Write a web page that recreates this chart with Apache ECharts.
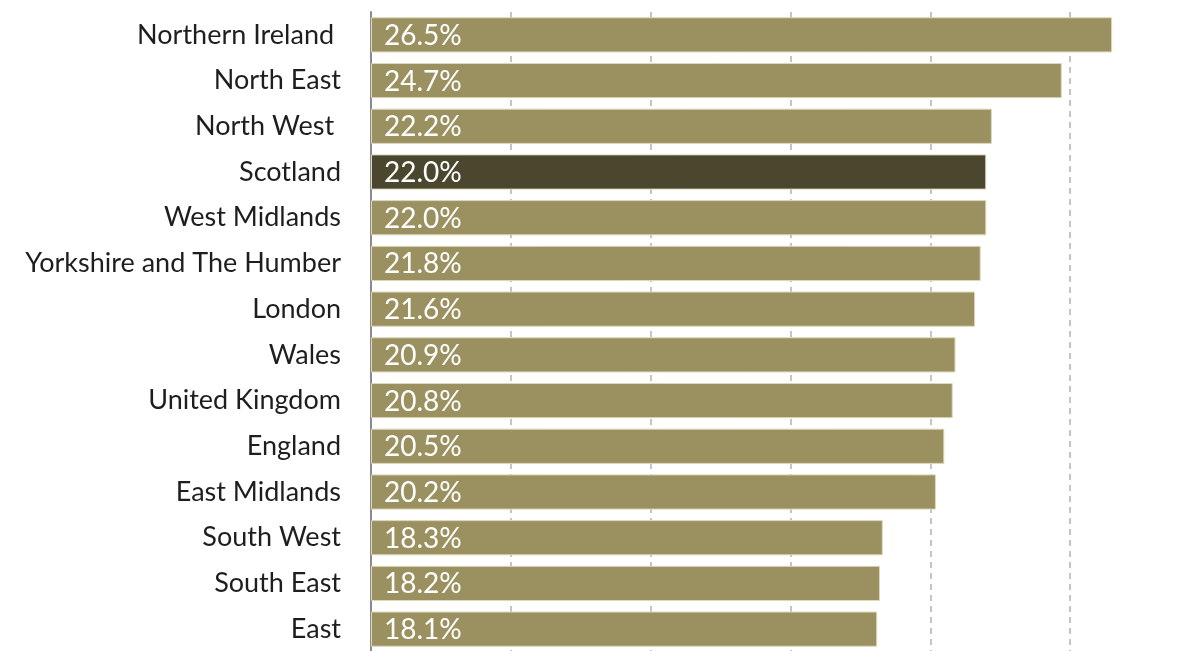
<!DOCTYPE html>
<html>
<head>
<meta charset="utf-8">
<script src="https://cdn.jsdelivr.net/npm/echarts@6/dist/echarts.min.js"></script>
<style>
  html, body { margin: 0; padding: 0; background: #fff; }
  #chart { width: 1204px; height: 651px; }
</style>
</head>
<body>
<div id="chart"></div>
<script>
// categories, top to bottom
var regions = ['Northern Ireland ', 'North East', 'North West ', 'Scotland', 'West Midlands',
    'Yorkshire and The Humber', 'London', 'Wales', 'United Kingdom', 'England',
    'East Midlands', 'South West', 'South East', 'East'];
var shares = [26.5, 24.7, 22.2, 22.0, 22.0, 21.8, 21.6, 20.9, 20.8, 20.5, 20.2, 18.3, 18.2, 18.1];
var highlight = 'Scotland';

var barColor = '#9b9160';
var highColor = '#4b472f';

var seriesData = [];
shares.forEach(function (v, i) {
    seriesData.push({
        value: v,
        itemStyle: { color: regions[i] === highlight ? highColor : barColor }
    });
});

var myChart = echarts.init(document.getElementById('chart'));
var option = {
    backgroundColor: '#fff',
    animation: false,
    grid: { left: 371, top: 12, width: 839, height: 640, containLabel: false, outerBoundsMode: 'none' },
    xAxis: {
        type: 'value',
        min: 0,
        max: 30,
        interval: 5,
        axisLabel: { show: false },
        axisLine: { show: false },
        axisTick: { show: false },
        splitLine: { lineStyle: { color: '#c4c4c4', width: 2, type: [6, 5] } }
    },
    yAxis: {
        type: 'category',
        inverse: true,
        data: regions,
        axisLine: { lineStyle: { color: '#8a8a8a', width: 2 } },
        axisTick: { length: 10, lineStyle: { color: '#8a8a8a', width: 2 } },
        axisLabel: {
            margin: 30,
            fontFamily: 'Lato',
            fontSize: 27,
            color: '#1e1e1e'
        }
    },
    series: [{
        type: 'bar',
        data: seriesData,
        barCategoryGap: '23%',
        itemStyle: { borderColor: '#ddd8bd', borderWidth: 1 },
        label: {
            show: true,
            position: 'insideLeft',
            offset: [8, 1],
            fontFamily: 'Lato',
            fontSize: 28,
            color: '#fff',
            formatter: function (p) { return p.value.toFixed(1) + '%'; }
        }
    }]
};
myChart.setOption(option);
</script>
</body>
</html>
